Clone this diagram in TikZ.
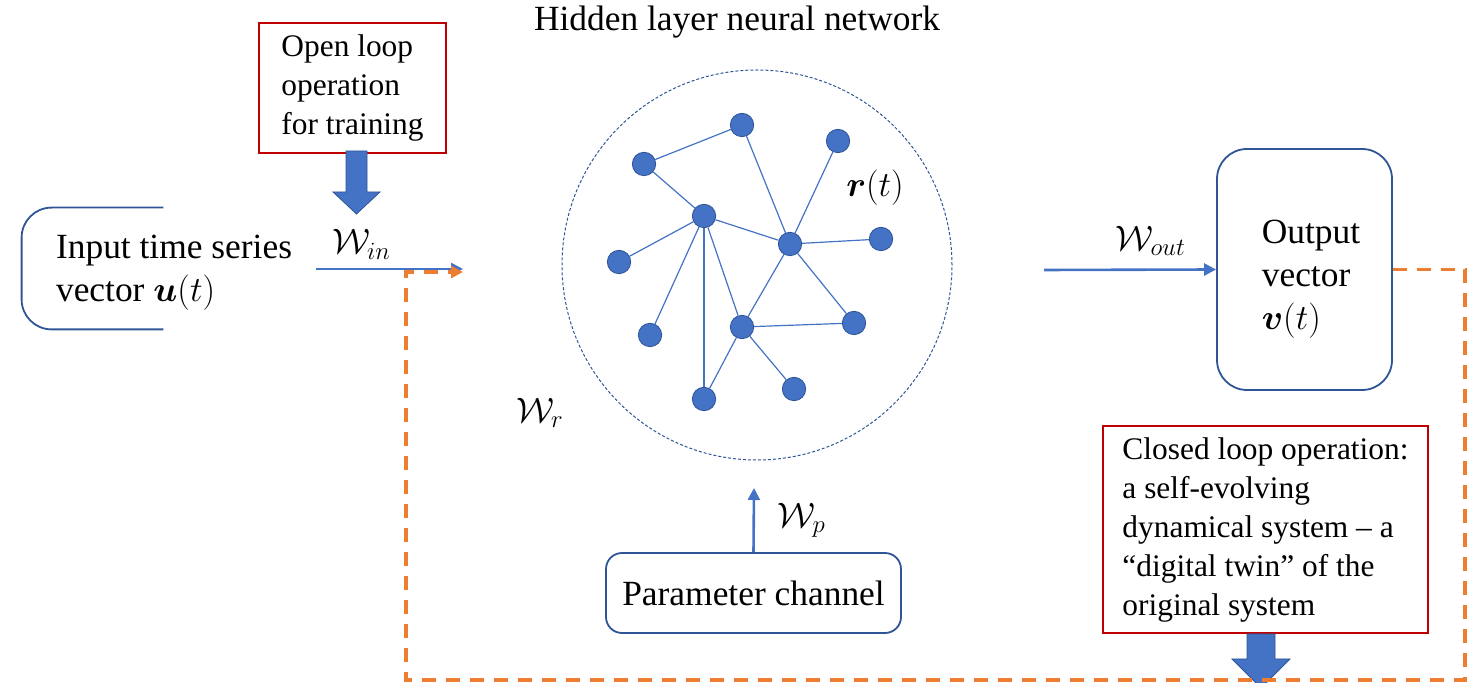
\RequirePackage{fix-cm}
\documentclass[tikz,border=0pt]{standalone}
\usepackage{amsmath}
\usepackage{fontspec}
\setmainfont{Liberation Serif}
\usepackage{bm}
\usepackage{xcolor}
\usetikzlibrary{positioning, arrows.meta}

\definecolor{nodeblue}{HTML}{4472C4}
\definecolor{frameblue}{HTML}{2F5597}
\definecolor{boxred}{HTML}{C00000}
\definecolor{looporange}{HTML}{ED7D31}

\begin{document}
\begin{tikzpicture}[x=0.5pt, y=-0.5pt,
    big/.style={font=\fontsize{17.7}{21.5}\selectfont},
    small/.style={font=\fontsize{15.7}{19.5}\selectfont},
    frame/.style={draw=frameblue, line width=0.9pt},
    redbox/.style={draw=boxred, line width=0.9pt, small, align=left, inner xsep=8pt},
    neuron/.style={circle, fill=nodeblue, draw=frameblue, line width=0.4pt, minimum size=11.7pt, inner sep=0pt},
    link/.style={draw=nodeblue, line width=0.6pt},
    feed/.style={draw=nodeblue, line width=1.3pt, -{Triangle[length=6pt, width=6pt]}},
    loopback/.style={draw=looporange, line width=1.6pt, dash pattern=on 7pt off 5pt},
    blockarrow/.style={fill=nodeblue, draw=frameblue, line width=0.4pt}]

    \useasboundingbox (0,0) rectangle (1473,683);

    \node[big] (title) at (737,22) {Hidden layer neural network};
    \node[circle, draw=frameblue, line width=0.5pt, dash pattern=on 1.5pt off 1pt, minimum size=195pt] (res) at (757,265) {};

    \node[neuron] (n1) at (742,125) {};
    \node[neuron] (n2) at (644,164) {};
    \node[neuron] (n3) at (838,141) {};
    \node[neuron] (n4) at (704,216) {};
    \node[neuron] (n5) at (790,244) {};
    \node[neuron] (n6) at (881,239) {};
    \node[neuron] (n7) at (619,262) {};
    \node[neuron] (n8) at (650,335) {};
    \node[neuron] (n9) at (742,327) {};
    \node[neuron] (n10) at (854,323) {};
    \node[neuron] (n11) at (704,399) {};
    \node[neuron] (n12) at (794,389) {};

    \path[link]
    (n2) edge (n1)
    (n2) edge (n4)
    (n1) edge (n5)
    (n3) edge (n5)
    (n4) edge (n5)
    (n4) edge (n7)
    (n4) edge (n8)
    (n4) edge (n11)
    (n4) edge (n9)
    (n5) edge (n6)
    (n5) edge (n9)
    (n5) edge (n10)
    (n9) edge (n10)
    (n9) edge (n11)
    (n9) edge (n12);

    \node[big] (rlabel) at (875,188) {$\bm{r}(t)$};
    \node[big] (wr) at (540,413) {$\mathcal{W}_r$};

    % input side
    \node[minimum width=70.5pt, minimum height=60.5pt, inner sep=0pt] (inframe) at (92.5,268.5) {};
    \draw[frame, rounded corners=15pt] (inframe.north east) -| (inframe.south west) -- (inframe.south east);
    \node[big, align=left, anchor=west] (input) at (49,273) {Input time series\\vector $\bm{u}(t)$};

    \node[redbox, minimum width=93.5pt, minimum height=65pt] (open) at (352.5,88) {Open loop\\operation\\for training};
    \fill[blockarrow] (346,151) -- (346,192) -- (333,192) -- (356.5,214) -- (380,192) -- (367,192) -- (367,151) -- cycle;

    % output side
    \node[frame, rounded corners=15pt, minimum width=87.5pt, minimum height=120.5pt] (output) at (1304.5,269.5) {};
    \node[big, align=left] (outtext) at (1311,279) {Output\\vector\\$\bm{v}(t)$};
    \node[frame, rounded corners=8pt, minimum width=147.5pt, minimum height=40pt, big] (param) at (753.5,593) {Parameter channel};

    \node[redbox, minimum width=162.5pt, minimum height=103.5pt] (closed) at (1265.5,529.5) {Closed loop operation:\\a self-evolving\\dynamical system -- a\\``digital twin'' of the\\original system};
    \fill[blockarrow] (1247,634) -- (1247,659) -- (1232,659) -- (1261,688) -- (1290,659) -- (1275,659) -- (1275,634) -- cycle;

    \coordinate (winA) at (316,269);
    \coordinate (winB) at (463,269);
    \coordinate (woutA) at (1044,270);
    \coordinate (wpTip) at (754,488);

    \draw[feed] (winA) -- (winB) node[pos=0.31, above=1pt, big] {$\mathcal{W}_{in}$};
    \draw[feed] (woutA) -- (output.west) node[pos=0.62, above=3pt, big] {$\mathcal{W}_{out}$};
    \draw[feed] (param.north) -- (wpTip) node[midway, right=8pt, big] {$\mathcal{W}_p$};

    % closed loop feedback
    \coordinate (loopR) at (1465,680);
    \coordinate (loopL) at (406,272);
    \coordinate (loopEnd) at (463,272);
    \draw[loopback, -{Triangle[length=6pt, width=6pt]}] (output.east) -| (loopR) -| (loopL) -- (loopEnd);

\end{tikzpicture}
\end{document}
